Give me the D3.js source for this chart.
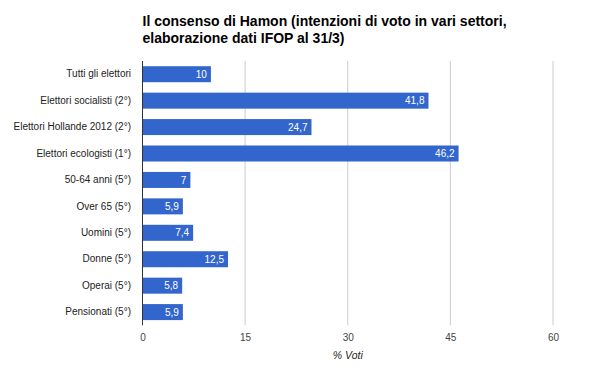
<!DOCTYPE html>
<html>
<head>
<meta charset="utf-8">
<script src="https://cdn.jsdelivr.net/npm/d3@7"></script>
<style>
  body { margin: 0; background: #fff; }
  svg { font-family: "Liberation Sans", Arial, sans-serif; }
</style>
</head>
<body>
<svg id="chart" width="600" height="371"></svg>
<script>
// data
const categories = [
  "Tutti gli elettori",
  "Elettori socialisti (2°)",
  "Elettori Hollande 2012 (2°)",
  "Elettori ecologisti (1°)",
  "50-64 anni (5°)",
  "Over 65 (5°)",
  "Uomini (5°)",
  "Donne (5°)",
  "Operai (5°)",
  "Pensionati (5°)"
]
const values = [10, 41.8, 24.7, 46.2, 7, 5.9, 7.4, 12.5, 5.8, 5.9]
const xTicks = [0, 15, 30, 45, 60]
const titleLines = [
  "Il consenso di Hamon (intenzioni di voto in vari settori,",
  "elaborazione dati IFOP al 31/3)"
]
const axisTitle = "% Voti"

const font = "'Liberation Sans', Arial, sans-serif"
const margin = { top: 61, left: 142.5, right: 47, bottom: 45.7 }
const width = 600, height = 371
const svg = d3.select("#chart")

const x = d3.scaleLinear()
  .domain([0, 60])
  .range([margin.left, width - margin.right])

const y = d3.scaleBand()
  .domain(categories)
  .range([margin.top, height - margin.bottom])
  .paddingInner(0.394)
  .paddingOuter(0.197)

// title
svg.append("g")
  .selectAll("text")
  .data(titleLines)
  .enter()
  .append("text")
  .attr("x", margin.left)
  .attr("y", (d, i) => 25.7 + i * 17.6)
  .attr("font-size", 14)
  .attr("font-weight", "bold")
  .attr("fill", "#000")
  .text(d => d)

// gridlines
svg.append("g")
  .selectAll("line")
  .data(xTicks.slice(1))
  .enter()
  .append("line")
  .attr("x1", d => x(d)).attr("x2", d => x(d))
  .attr("y1", margin.top).attr("y2", height - margin.bottom)
  .attr("stroke", "#cccccc")
  .attr("stroke-width", 1)

// bars
svg.append("g")
  .selectAll("rect")
  .data(values)
  .enter()
  .append("rect")
  .attr("x", x(0))
  .attr("y", (d, i) => y(categories[i]))
  .attr("width", d => x(d) - x(0))
  .attr("height", y.bandwidth())
  .attr("fill", "#3366cc")

// value labels
svg.append("g")
  .selectAll("text")
  .data(values)
  .enter()
  .append("text")
  .attr("x", d => x(d) - 4)
  .attr("y", (d, i) => y(categories[i]) + y.bandwidth() / 2)
  .attr("dy", "0.36em")
  .attr("text-anchor", "end")
  .attr("font-size", 10)
  .attr("fill", "#ffffff")
  .text(d => String(d).replace(".", ","))

// zero axis line
svg.append("line")
  .attr("x1", x(0)).attr("x2", x(0))
  .attr("y1", margin.top).attr("y2", height - margin.bottom)
  .attr("stroke", "#333333")
  .attr("stroke-width", 1)

// category axis
const yAxis = svg.append("g")
  .attr("transform", `translate(${x(0) - 11.5},0)`)
  .call(d3.axisLeft(y).tickSize(0).tickPadding(0))
yAxis.select(".domain").remove()
yAxis.selectAll("text")
  .attr("font-family", font)
  .attr("font-size", 10)
  .attr("fill", "#222222")

// value axis
const xAxis = svg.append("g")
  .attr("transform", `translate(0,${height - margin.bottom})`)
  .call(d3.axisBottom(x).tickValues(xTicks).tickSize(0).tickPadding(8.6))
xAxis.select(".domain").remove()
xAxis.selectAll("text")
  .attr("font-family", font)
  .attr("font-size", 10)
  .attr("fill", "#444444")

svg.append("text")
  .attr("x", (x(0) + x(60)) / 2)
  .attr("y", 359)
  .attr("text-anchor", "middle")
  .attr("font-size", 10.5)
  .attr("font-style", "italic")
  .attr("fill", "#222222")
  .text(axisTitle)
</script>
</body>
</html>
